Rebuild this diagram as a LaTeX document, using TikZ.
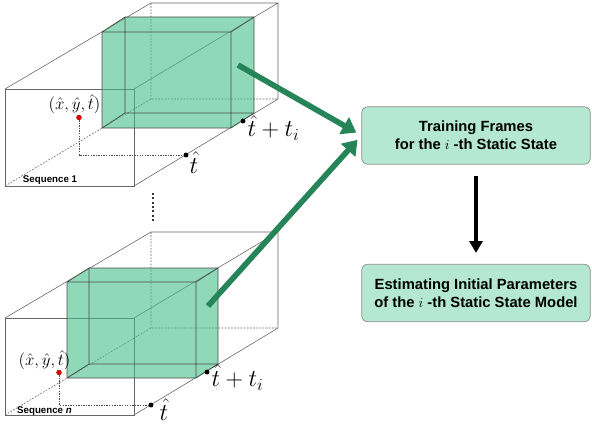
\documentclass[tikz,border=0pt]{standalone}
\usepackage{fontspec}
\setsansfont{Liberation Sans}
\usepackage{tikz}
\usetikzlibrary{arrows.meta}
\definecolor{slab}{RGB}{68,190,137}
\definecolor{boxfill}{RGB}{180,232,210}
\definecolor{arrowgreen}{RGB}{38,133,88}

\begin{document}
\begin{tikzpicture}[x=0.03cm, y=-0.03cm, every node/.style={inner sep=0pt},
	edge/.style={draw=black!60, line width=0.5pt},
	hidden/.style={edge, dash pattern=on 1.5pt off 1.2pt},
	slabedge/.style={draw=black!70, line width=0.6pt},
	proj/.style={draw=black!70, line width=0.45pt, dash pattern=on 1.2pt off 1pt},
	reddot/.style={circle, fill=red!90!black, draw=red!60!black, line width=0.3pt, minimum size=4.2pt},
	blackdot/.style={circle, fill=black, minimum size=4.2pt},
	seqlabel/.style={font=\sffamily\bfseries\fontsize{8.3}{10}\selectfont},
	stagebox/.style={draw=black!45, line width=0.6pt, rounded corners=5pt, fill=boxfill, minimum width=195pt, minimum height=49pt, align=center, font=\sffamily\bfseries\fontsize{12.6}{15.5}\selectfont},
	bigarrow/.style={draw=arrowgreen, line width=4.8pt, -{Triangle[length=12pt, width=16pt]}, shorten >=5pt},
	downarrow/.style={draw=black, line width=3.3pt, -{Triangle[length=10pt, width=11pt]}, shorten <=10pt, shorten >=9.4pt}]
	\useasboundingbox (0,0) rectangle (592,424);
	% sequence 1
	\draw[edge] (5,89) rectangle (134,186);
	\draw[edge] (5,89) -- (151,3) -- (278,3) -- (278,99) -- (134,186) (134,89) -- (278,3);
	\draw[hidden] (5,186) -- (151,99) -- (278,99) (151,3) -- (151,99);
	\fill[slab, fill opacity=0.6] (102,32) -- (125,17) -- (254,17) -- (254,113) -- (231,128) -- (102,128) -- cycle;
	\draw[slabedge] (102,32) rectangle (231,128) (125,17) rectangle (254,113) (102,32) -- (125,17) (231,32) -- (254,17) (231,128) -- (254,113) (102,128) -- (125,113);
	\node[reddot] (p1) at (79,117.5) {};
	\coordinate (f1) at (79,155);
	\node[blackdot] (t1) at (186,155) {};
	\node[blackdot] (e1) at (243,121) {};
	\draw[proj] (p1) -- (f1) -- (t1);
	\node[font=\fontsize{15}{18}\selectfont] (p1lab) at (74.5,104) {$(\hat{x},\hat{y},\hat{t})$};
	\node[font=\fontsize{20}{24}\selectfont] (t1lab) at (194,162.5) {$\hat{t}$};
	\node[font=\fontsize{20}{24}\selectfont] (e1lab) at (273.5,128) {$\hat{t}+t_i$};
	\node[seqlabel] (seq1) at (50,180) {Sequence 1};
	\draw[black!80, line width=1.7pt, dash pattern=on 1.7pt off 2pt] (153,193) -- (153,221);
	% sequence n
	\draw[edge] (5,318) rectangle (134,415);
	\draw[edge] (5,318) -- (151,232) -- (278,232) -- (278,328) -- (134,415) (134,318) -- (278,232);
	\draw[hidden] (5,415) -- (151,328) -- (278,328) (151,232) -- (151,328);
	\fill[slab, fill opacity=0.6] (67,282) -- (89,268) -- (218,268) -- (218,364) -- (196,378) -- (67,378) -- cycle;
	\draw[slabedge] (67,282) rectangle (196,378) (89,268) rectangle (218,364) (67,282) -- (89,268) (196,282) -- (218,268) (196,378) -- (218,364) (67,378) -- (89,364);
	\node[reddot] (p2) at (59,372.5) {};
	\coordinate (f2) at (59,405);
	\node[blackdot] (t2) at (151,405) {};
	\node[blackdot] (e2) at (207,372) {};
	\draw[proj] (p2) -- (f2) -- (t2);
	\node[font=\fontsize{15}{18}\selectfont] (p2lab) at (44.5,360.5) {$(\hat{x},\hat{y},\hat{t})$};
	\node[font=\fontsize{20}{24}\selectfont] (t2lab) at (164,409.5) {$\hat{t}$};
	\node[font=\fontsize{20}{24}\selectfont] (e2lab) at (237.5,377.5) {$\hat{t}+t_i$};
	\node[seqlabel] (seqn) at (44.5,411.5) {Sequence \textit{n}};
	% stages
	\node[stagebox] (train) at (476,135.5) {Training Frames\\for the $i$ -th Static State};
	\node[stagebox] (estim) at (476,293) {Estimating Initial Parameters\\of the $i$ -th Static State Model};
	\coordinate (c1) at (238,65);
	\coordinate (c2) at (208,306);
	\draw[bigarrow] (c1) -- (train.west);
	\draw[bigarrow] (c2) -- (train.west);
	\draw[downarrow] (train) -- (estim);
\end{tikzpicture}
\end{document}
